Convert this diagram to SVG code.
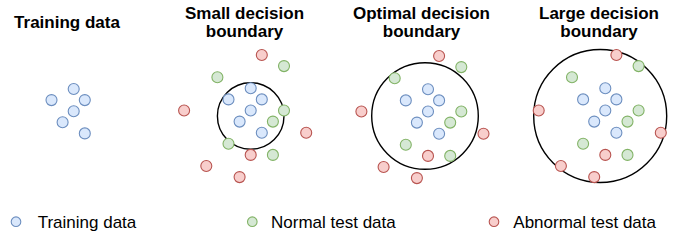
<svg xmlns="http://www.w3.org/2000/svg" width="677" height="243" viewBox="0 0 677 243">
<style>
.t{font-family:"Liberation Sans",Arial,sans-serif;font-size:17px;font-weight:bold;fill:#000;text-anchor:middle}
.l{font-family:"Liberation Sans",Arial,sans-serif;font-size:17px;fill:#000}
.b{fill:#dae8fc;stroke:#6c8ebf;stroke-width:1.1}
.g{fill:#d5e8d4;stroke:#82b366;stroke-width:1.1}
.r{fill:#f8cecc;stroke:#b85450;stroke-width:1.1}
.bd{fill:none;stroke:#000;stroke-width:1.4}
</style>
<defs>
<g id="blue">
<circle class="b" cx="0" cy="0" r="5.5"/>
<circle class="b" cx="-22.2" cy="11.1" r="5.5"/>
<circle class="b" cx="11.1" cy="11.1" r="5.5"/>
<circle class="b" cx="0" cy="22.2" r="5.5"/>
<circle class="b" cx="-11.1" cy="33.3" r="5.5"/>
<circle class="b" cx="11.1" cy="44.4" r="5.5"/>
</g>
<g id="green">
<circle class="g" cx="33.3" cy="-22.2" r="5.5"/>
<circle class="g" cx="-33.3" cy="-11.1" r="5.5"/>
<circle class="g" cx="33.3" cy="22.2" r="5.5"/>
<circle class="g" cx="22.2" cy="33.3" r="5.5"/>
<circle class="g" cx="-22.2" cy="55.5" r="5.5"/>
<circle class="g" cx="22.2" cy="66.6" r="5.5"/>
</g>
<g id="red">
<circle class="r" cx="11.1" cy="-33.3" r="5.5"/>
<circle class="r" cx="-66.6" cy="22.2" r="5.5"/>
<circle class="r" cx="55.5" cy="44.4" r="5.5"/>
<circle class="r" cx="0" cy="66.6" r="5.5"/>
<circle class="r" cx="-44.4" cy="77.7" r="5.5"/>
<circle class="r" cx="-11.1" cy="88.8" r="5.5"/>
</g>
</defs>
<g id="panel-training">
<text class="t" x="67" y="27.5">Training data</text>
<use href="#blue" x="73.7" y="89"/>
</g>
<g id="panel-small">
<text class="t" x="244.5" y="18.5">Small decision</text>
<text class="t" x="244.5" y="37">boundary</text>
<circle class="bd" cx="250.7" cy="116" r="33.3"/>
<use href="#blue" x="250.7" y="88.3"/>
<use href="#green" x="250.7" y="88.3"/>
<use href="#red" x="250.7" y="88.3"/>
</g>
<g id="panel-optimal">
<text class="t" x="421.5" y="18.5">Optimal decision</text>
<text class="t" x="421.5" y="37">boundary</text>
<circle class="bd" cx="425" cy="116" r="53.3"/>
<use href="#blue" x="428" y="89.3"/>
<use href="#green" x="428" y="89.3"/>
<use href="#red" x="428" y="89.3"/>
</g>
<g id="panel-large">
<text class="t" x="599" y="18.5">Large decision</text>
<text class="t" x="599" y="37">boundary</text>
<circle class="bd" cx="600.2" cy="116" r="66.5"/>
<use href="#blue" x="605.3" y="88.3"/>
<use href="#green" x="605.3" y="88.3"/>
<use href="#red" x="605.3" y="88.3"/>
</g>
<g id="legend">
<circle class="b" cx="16" cy="221.7" r="4.8"/>
<text class="l" x="37.7" y="227.7">Training data</text>
<circle class="g" cx="252.3" cy="221.7" r="4.8"/>
<text class="l" x="271" y="227.7">Normal test data</text>
<circle class="r" cx="494" cy="221.7" r="4.8"/>
<text class="l" x="513.3" y="227.7">Abnormal test data</text>
</g>
<g id="connectors"/>
</svg>
